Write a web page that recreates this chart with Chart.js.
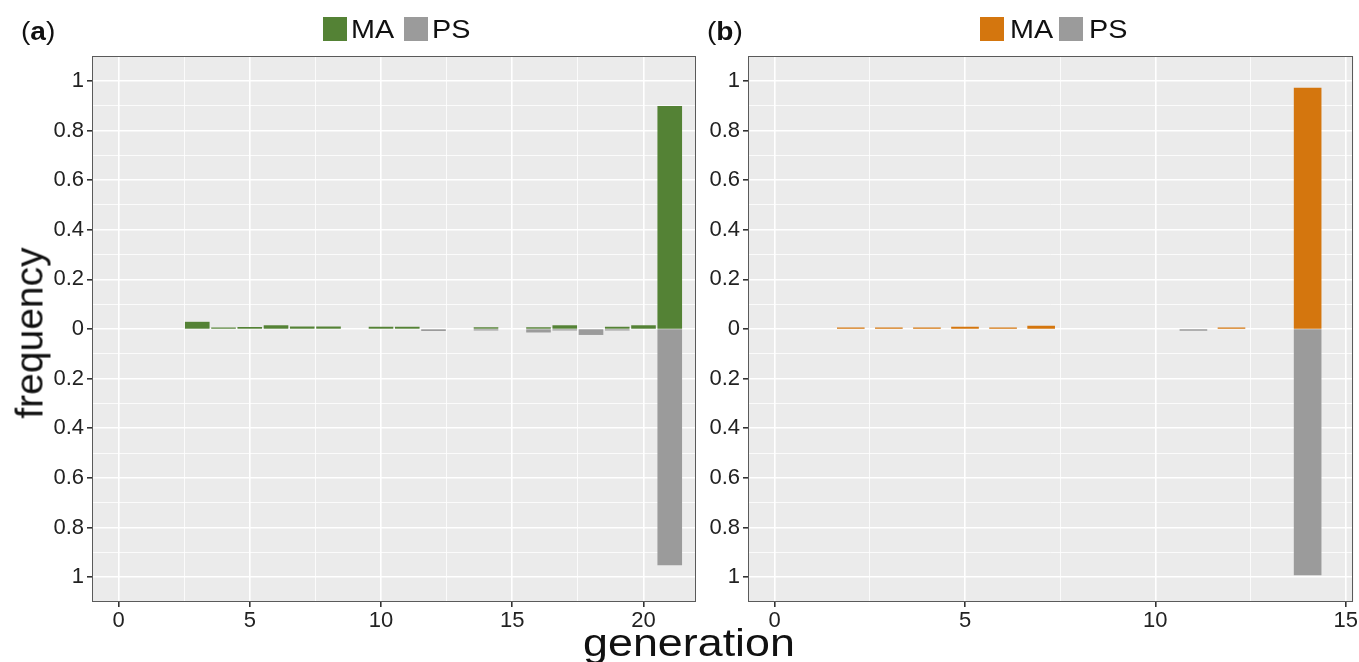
<!DOCTYPE html>
<html>
<head>
<meta charset="utf-8">
<script src="https://cdn.jsdelivr.net/npm/chart.js@4"></script>
<style>
  body { margin: 0; background: #fff; }
  #wrap { position: relative; width: 1359px; height: 662px; overflow: hidden; font-family: "Liberation Sans", Arial, sans-serif; color: #111; }
  canvas { position: absolute; top: 0; }
  .txt { position: absolute; line-height: 1; white-space: nowrap; }
  .tag { font-size: 26px; transform: scaleX(1.08); transform-origin: left center; }
  .key { position: absolute; width: 24px; height: 24px; top: 17px; }
  .keytxt { font-size: 25px; top: 17px; transform: scaleX(1.15); transform-origin: left center; }
</style>
</head>
<body>
<div id="wrap">
  <canvas id="chartA" width="700" height="662" style="left:0;width:700px;height:662px"></canvas>
  <canvas id="chartB" width="659" height="662" style="left:700px;width:659px;height:662px"></canvas>

  <div class="txt tag" style="left:21px;top:18px">(<b>a</b>)</div>
  <div class="txt tag" style="left:707px;top:18px">(<b>b</b>)</div>

  <div class="key" style="left:323px;background:#548235"></div>
  <div class="txt keytxt" style="left:351px">MA</div>
  <div class="key" style="left:404px;background:#9b9b9b"></div>
  <div class="txt keytxt" style="left:432px">PS</div>

  <div class="key" style="left:980px;background:#d4760e"></div>
  <div class="txt keytxt" style="left:1010px">MA</div>
  <div class="key" style="left:1059px;background:#9b9b9b"></div>
  <div class="txt keytxt" style="left:1089px">PS</div>

  <div class="txt" style="left:29px;top:333px;font-size:39px;transform:translate(-50%,-50%) rotate(-90deg)">frequency</div>
  <div class="txt" style="left:689px;top:624px;font-size:38px;transform:translateX(-50%) scaleX(1.18)">generation</div>
</div>

<script>
// ---- panel (a) ----  (null = no bar)
const genA = [3, 4, 5, 6, 7, 8, 10, 11, 12, 14, 16, 17, 18, 19, 20, 21];
const maA  = [0.027, 0.004, 0.006, 0.013, 0.008, 0.008, 0.007, 0.007, null, 0.005, 0.005, 0.013, null, 0.007, 0.013, 0.897];
const psA  = [null, null, null, null, null, null, null, null, 0.006, 0.003, 0.012, 0.003, 0.022, 0.004, null, 0.95];

// ---- panel (b) ----
const genB = [2, 3, 4, 5, 6, 7, 11, 12, 14];
const maB  = [0.003, 0.003, 0.003, 0.007, 0.003, 0.011, null, 0.004, 0.97];
const psB  = [null, null, null, null, null, null, 0.005, null, 0.99];

// axis breaks
const xMajorA = [0, 5, 10, 15, 20];
const xMinorA = [2.5, 7.5, 12.5, 17.5];
const xMajorB = [0, 5, 10, 15];
const xMinorB = [2.5, 7.5, 12.5];
const yMajor = [-1, -0.8, -0.6, -0.4, -0.2, 0, 0.2, 0.4, 0.6, 0.8, 1];
const yMinor = [-0.9, -0.7, -0.5, -0.3, -0.1, 0.1, 0.3, 0.5, 0.7, 0.9];

const GREEN = "#548235";
const ORANGE = "#d4760e";
const GREY = "#9b9b9b";
const FONT = "'Liberation Sans', Arial, sans-serif";

// grey panel + frame like ggplot
const panelPlugin = {
    id: "panel",
    beforeDraw(chart) {
        const { ctx, chartArea: a } = chart;
        ctx.save();
        ctx.fillStyle = "#ebebeb";
        ctx.fillRect(a.left, a.top, a.right - a.left, a.bottom - a.top);
        ctx.restore();
    },
    afterDraw(chart) {
        const { ctx, chartArea: a } = chart;
        ctx.save();
        ctx.strokeStyle = "#5a5a5a";
        ctx.lineWidth = 1;
        ctx.strokeRect(Math.round(a.left) + 0.5, Math.round(a.top) + 0.5,
            Math.round(a.right - a.left) - 1, Math.round(a.bottom - a.top) - 1);
        ctx.restore();
    }
};

function isMajor(list, v) {
    return list.some(m => Math.abs(m - v) < 1e-6);
}

function toPoints(gens, vals, sign) {
    return gens.map((g, i) => ({ x: g, y: vals[i] === null ? null : sign * vals[i] }));
}

function makeChart(id, gens, ma, ps, maColor, xMin, xMax, xMajor, xMinor, yWidth, padRight, barPct) {
    const ctx = document.getElementById(id).getContext("2d");
    const barStyle = { borderWidth: 0, minBarLength: 1, inflateAmount: 0.5 };
    return new Chart(ctx, {
        type: "bar",
        data: {
            datasets: [
                { label: "MA", data: toPoints(gens, ma, 1), backgroundColor: maColor, ...barStyle },
                { label: "PS", data: toPoints(gens, ps, -1), backgroundColor: GREY, ...barStyle }
            ]
        },
        options: {
            responsive: false,
            animation: false,
            barPercentage: barPct,
            categoryPercentage: 1,
            layout: { padding: { top: 56, right: padRight, bottom: 0, left: 0 } },
            plugins: { legend: { display: false }, tooltip: { enabled: false } },
            scales: {
                x: {
                    type: "linear",
                    stacked: true,
                    offset: false,
                    min: xMin,
                    max: xMax,
                    afterBuildTicks: s => { s.ticks = xMajor.concat(xMinor).sort((a, b) => a - b).map(v => ({ value: v })); },
                    afterFit: s => { s.height = 60; },
                    border: { display: false },
                    grid: {
                        offset: false,
                        color: "#ffffff",
                        lineWidth: c => isMajor(xMajor, c.tick.value) ? 1.6 : 0.8,
                        tickLength: 5,
                        tickColor: c => isMajor(xMajor, c.tick.value) ? "#333" : "rgba(0,0,0,0)"
                    },
                    ticks: {
                        autoSkip: false,
                        maxRotation: 0,
                        padding: 1,
                        color: "#222",
                        font: { family: FONT, size: 22 },
                        callback: v => isMajor(xMajor, v) ? String(v) : ""
                    }
                },
                y: {
                    stacked: true,
                    min: -1.1,
                    max: 1.1,
                    afterBuildTicks: s => { s.ticks = yMajor.concat(yMinor).sort((a, b) => a - b).map(v => ({ value: v })); },
                    afterFit: s => { s.width = yWidth; },
                    border: { display: false },
                    grid: {
                        color: "#ffffff",
                        lineWidth: c => isMajor(yMajor, c.tick.value) ? 1.6 : 0.8,
                        tickLength: 5,
                        tickColor: c => isMajor(yMajor, c.tick.value) ? "#333" : "rgba(0,0,0,0)"
                    },
                    ticks: {
                        autoSkip: false,
                        padding: 3,
                        color: "#222",
                        font: { family: FONT, size: 22 },
                        callback: v => isMajor(yMajor, v) ? String(Math.abs(Math.round(v * 10) / 10)) : ""
                    }
                }
            }
        },
        plugins: [panelPlugin]
    });
}

makeChart("chartA", genA, maA, psA, GREEN, -1.01, 22.0, xMajorA, xMinorA, 92, 4, 0.9);
makeChart("chartB", genB, maB, psB, ORANGE, -0.7, 15.2, xMajorB, xMinorB, 48, 5, 0.7);
</script>
</body>
</html>
